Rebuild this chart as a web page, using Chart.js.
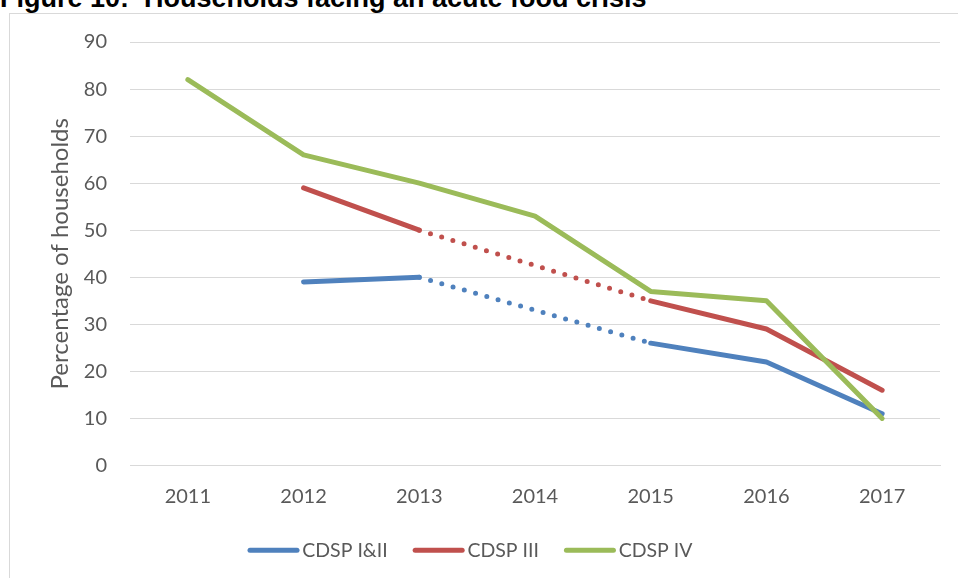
<!DOCTYPE html>
<html>
<head>
<meta charset="utf-8">
<script src="https://cdn.jsdelivr.net/npm/chart.js@4"></script>
<style>
  html, body { margin: 0; padding: 0; background: #fff; overflow: hidden; }
  body { width: 958px; height: 578px; position: relative; }
  #title {
    position: absolute; left: 0; top: -14.6px;
    font: bold 27px/27px "Liberation Sans", Arial, sans-serif;
    color: #000; white-space: pre;
  }
  #frame {
    position: absolute; left: 9px; top: 13px; width: 980px; height: 600px;
    border: 1px solid #d9d9d9;
  }
  #wrap { position: absolute; left: 0; top: 0; width: 958px; height: 578px; }
</style>
</head>
<body>
<div id="title">Figure 10:  Households facing an acute food crisis</div>
<div id="frame"></div>
<div id="wrap"><canvas id="chart"></canvas></div>
<script>
const years = ["2011", "2012", "2013", "2014", "2015", "2016", "2017"];
const cdsp12 = [null, 39, 40, null, 26, 22, 11];
const cdsp3 = [null, 59, 50, null, 35, 29, 16];
const cdsp4 = [82, 66, 60, 53, 37, 35, 10];
const yTicks = [0, 10, 20, 30, 40, 50, 60, 70, 80, 90];

const grey = "#595959";
const font = "Lato, 'Open Sans', sans-serif";

// dotted where a year is missing
const gap = (ctx, val) => (ctx.p0.skip || ctx.p1.skip) ? val : undefined;

function series(label, data, color, order) {
  return {
    label, data, order,
    borderColor: color,
    backgroundColor: color,
    borderWidth: 5,
    borderCapStyle: "round",
    borderJoinStyle: "round",
    pointRadius: 0,
    pointHoverRadius: 0,
    tension: 0,
    spanGaps: true,
    segment: { borderDash: ctx => gap(ctx, [0, 11.7]) }
  };
}

// legend swatches: longer rounded lines sitting close to the text
const legendLines = {
  id: "legendLines",
  afterDraw(chart) {
    const lg = chart.legend;
    if (!lg || !lg.legendHitBoxes) return;
    const c = chart.ctx;
    lg.legendItems.forEach((item, i) => {
      const hb = lg.legendHitBoxes[i];
      const y = hb.top + hb.height / 2;
      c.save();
      c.strokeStyle = item.strokeStyle;
      c.lineWidth = 5;
      c.lineCap = "round";
      c.beginPath();
      c.moveTo(hb.left + 2.5, y);
      c.lineTo(hb.left + 49.5, y);
      c.stroke();
      c.restore();
    });
  }
};

new Chart(document.getElementById("chart"), {
  type: "line",
  data: {
    labels: years,
    datasets: [
      series("CDSP I&II", cdsp12, "#4f81bd", 3),
      series("CDSP III", cdsp3, "#c0504d", 2),
      series("CDSP IV", cdsp4, "#9bbb59", 1)
    ]
  },
  options: {
    responsive: true,
    maintainAspectRatio: false,
    animation: false,
    layout: { padding: { left: 0, right: 18, top: 42, bottom: 8 } },
    scales: {
      x: {
        offset: true,
        grid: { display: false, drawTicks: false },
        border: { color: "#d9d9d9", width: 1 },
        ticks: { color: grey, font: { family: font, size: 20 }, padding: 19 },
        afterFit: s => { s.height = 50; }
      },
      y: {
        min: 0, max: 90,
        afterBuildTicks: s => { s.ticks = yTicks.map(v => ({ value: v })); },
        grid: { color: "#d9d9d9", lineWidth: 1, drawTicks: false },
        border: { display: false },
        ticks: { color: grey, font: { family: font, size: 20 }, padding: 23 },
        title: {
          display: true, text: "Percentage of households",
          color: grey, font: { family: font, size: 24 },
          padding: { top: 46, bottom: 0 }
        },
        afterFit: s => { s.width = 130; }
      }
    },
    plugins: {
      tooltip: { enabled: false },
      legend: {
        position: "bottom",
        reverse: true,
        labels: {
          usePointStyle: true,
          pointStyle: "line",
          pointStyleWidth: 45,
          color: grey,
          font: { family: font, size: 19.5 },
          padding: 25,
          generateLabels: chart => Chart.defaults.plugins.legend.labels.generateLabels(chart)
            .map(l => Object.assign(l, { lineWidth: 0 }))
        }
      }
    }
  },
  plugins: [legendLines]
});
</script>
</body>
</html>
